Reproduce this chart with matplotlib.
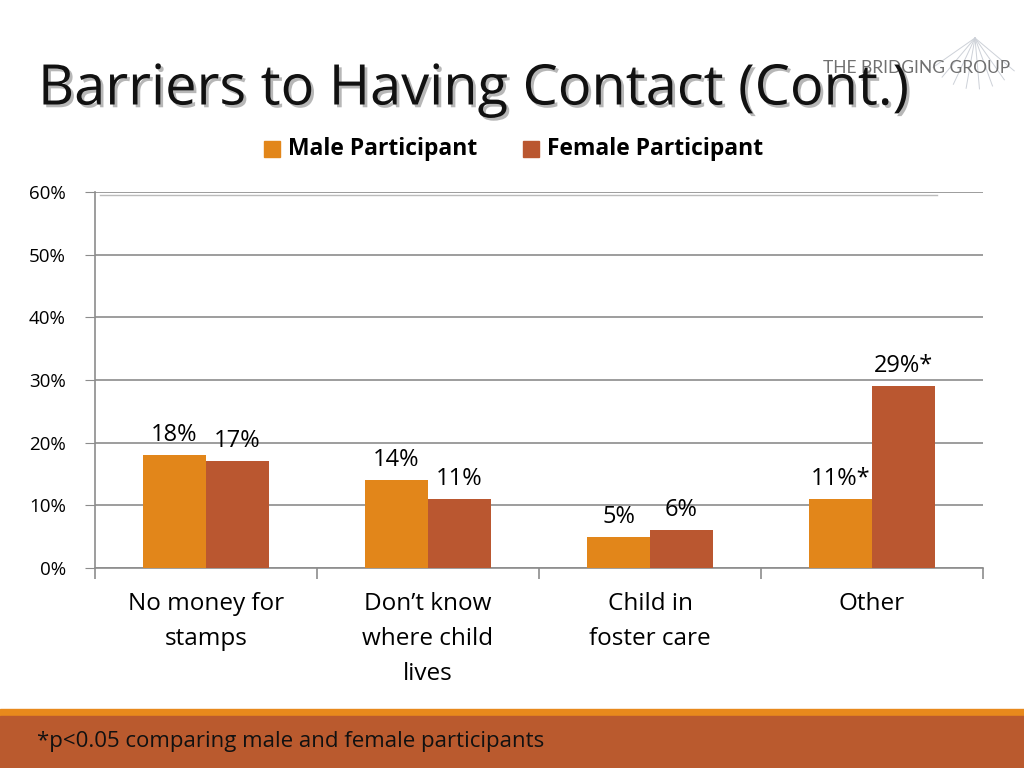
import matplotlib.pyplot as plt
import matplotlib.patheffects as pe
from matplotlib.patches import Rectangle
import numpy as np

plt.rcParams['font.family'] = ['Open Sans', 'DejaVu Sans']

categories = ["No money for\nstamps", "Don\u2019t know\nwhere child\nlives", "Child in\nfoster care", "Other"]
male = [18, 14, 5, 11]
female = [17, 11, 6, 29]
male_labels = ["18%", "14%", "5%", "11%*"]
female_labels = ["17%", "11%", "6%", "29%*"]
yticks = [0, 10, 20, 30, 40, 50, 60]

c_male = "#E2861A"
c_female = "#BA5730"
grid_c = "#8C8C8C"

fig = plt.figure(figsize=(10.24, 7.68), dpi=100)
ax = fig.add_axes([95 / 1024, 1 - 568 / 768, (983 - 95) / 1024, (568 - 192) / 768])

x = np.arange(len(categories))
w = 0.284
ax.bar(x - w / 2, male, w, color=c_male, zorder=3)
ax.bar(x + w / 2, female, w, color=c_female, zorder=3)

for xi, v, s in zip(x, male, male_labels):
    ax.text(xi - w / 2, v + 1.3, s, ha="center", va="bottom", fontsize=17)
for xi, v, s in zip(x, female, female_labels):
    ax.text(xi + w / 2, v + 1.3, s, ha="center", va="bottom", fontsize=17)

ax.set_xlim(-0.5, 3.5)
ax.set_ylim(0, 60)
ax.set_yticks(yticks)
ax.set_yticklabels([f"{t}%" for t in yticks], fontsize=13.5)
ax.yaxis.grid(True, color=grid_c, linewidth=1.2, zorder=0)
ax.set_axisbelow(True)
for side in ["top", "right"]:
    ax.spines[side].set_visible(False)
for side in ["left", "bottom"]:
    ax.spines[side].set_color(grid_c)
    ax.spines[side].set_linewidth(1.2)
ax.tick_params(axis="y", length=7, color=grid_c, pad=14)

# category boundaries as tick marks, labels centered on groups
ax.set_xticks(np.arange(-0.5, 4.0, 1.0))
ax.set_xticklabels([])
ax.tick_params(axis="x", length=8, color=grid_c, width=1.2)
for xi, c in zip(x, categories):
    ax.text(xi, -3.9, c, ha="center", va="top", fontsize=17.5, linespacing=1.6)

# faint duplicate line under the top gridline
fig.add_artist(plt.Line2D([100 / 1024, 937 / 1024], [1 - 195 / 768] * 2, color="#BBBBBB", lw=1))

# logo web
cx, cy = 975 / 1024, 1 - 38 / 768
for ang in np.linspace(215, 320, 8):
    r = 0.05
    fig.add_artist(plt.Line2D([cx, cx + r * np.cos(np.radians(ang))],
                              [cy, cy + r * 1.33 * np.sin(np.radians(ang))],
                              color="#CDD1D8", lw=0.7))
fig.text(1010 / 1024, 1 - 68 / 768, "THE BRIDGING GROUP", fontsize=12.5, ha="right", va="center",
         color="#707070", family=["Lato", "DejaVu Sans"])

# title
fig.text(38 / 1024, 1 - 90 / 768, "Barriers to Having Contact (Cont.)", fontsize=40.3,
         va="center", ha="left", color="#111111",
         path_effects=[pe.withSimplePatchShadow(offset=(2, -2), shadow_rgbFace="#888888", alpha=0.6)])

# legend
fig.patches.append(Rectangle((264 / 1024, 1 - 157 / 768), 16 / 1024, 16 / 768,
                             transform=fig.transFigure, color=c_male))
fig.text(288 / 1024, 1 - 149 / 768, "Male Participant", fontsize=16.5, fontweight="bold", va="center")
fig.patches.append(Rectangle((523 / 1024, 1 - 157 / 768), 16 / 1024, 16 / 768,
                             transform=fig.transFigure, color=c_female))
fig.text(547 / 1024, 1 - 149 / 768, "Female Participant", fontsize=16.5, fontweight="bold", va="center")

# bottom band
fig.patches.append(Rectangle((0, 1 - 716 / 768), 1, 7 / 768, transform=fig.transFigure, color="#E8891C"))
fig.patches.append(Rectangle((0, 0), 1, 52 / 768, transform=fig.transFigure, color="#BA5A2E"))
fig.text(37 / 1024, 1 - 741 / 768, "*p<0.05 comparing male and female participants",
         fontsize=16, va="center", color="#111111")

fig.savefig("out.png", dpi=100)
